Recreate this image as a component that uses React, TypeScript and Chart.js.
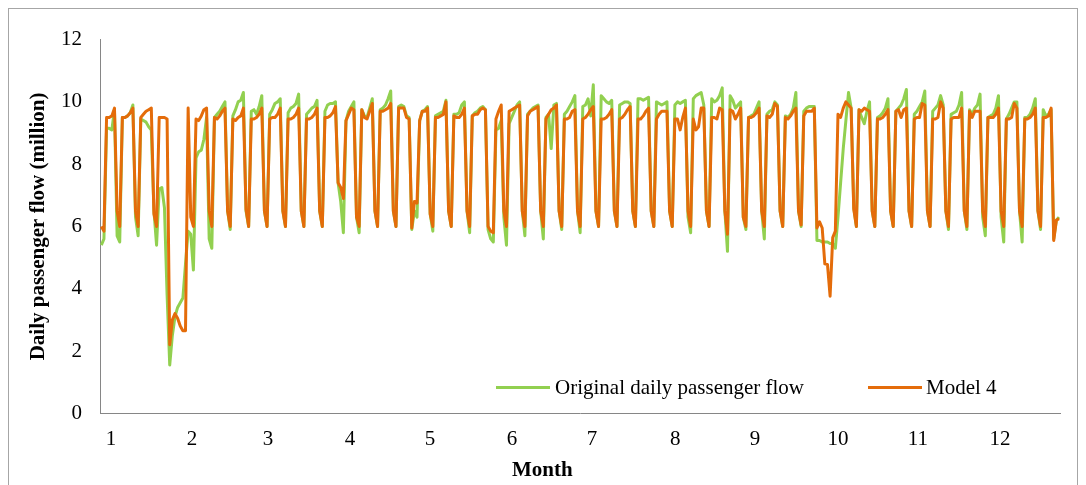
import React, { useEffect, useRef } from "react";
import { Chart, registerables } from "chart.js";

Chart.register(...registerables);

const monthLabels = ["1", "2", "3", "4", "5", "6", "7", "8", "9", "10", "11", "12"];
// day index (0 = first day of the series) under each month label
const monthTickDays = [3.7, 34.5, 63.4, 94.5, 124.9, 156.1, 186.5, 218.1, 248.5, 280.0, 310.4, 341.6];

// Original daily passenger flow (million), one row per week (Sun..Sat)
const originalWeeks: number[][] = [
  [5.4, 5.6, 9.15, 9.15, 9.1, 9.75, 5.7],
  [5.5, 9.5, 9.5, 9.55, 9.65, 9.9, 6.3],
  [5.7, 9.45, 9.4, 9.35, 9.2, 9.1, 6.5],
  [5.4, 7.2, 7.25, 6.6, 3.8, 1.55, 2.5],
  [3.1, 3.4, 3.55, 3.7, 4.8, 5.85, 5.75],
  [4.6, 8.2, 8.4, 8.45, 8.8, 9.5, 5.6],
  [5.3, 9.5, 9.6, 9.7, 9.85, 10.0, 6.5],
  [5.9, 9.55, 9.75, 10.0, 10.05, 10.3, 6.5],
  [6.0, 9.7, 9.75, 9.6, 9.85, 10.2, 6.5],
  [6.0, 9.6, 9.75, 9.95, 10.0, 10.1, 6.5],
  [6.0, 9.65, 9.8, 9.85, 9.95, 10.25, 6.5],
  [6.0, 9.6, 9.7, 9.8, 9.85, 10.05, 6.5],
  [6.0, 9.7, 9.9, 9.95, 9.95, 10.0, 7.4],
  [6.8, 5.8, 9.4, 9.7, 9.85, 10.0, 6.3],
  [5.8, 9.75, 9.55, 9.5, 9.8, 10.1, 6.5],
  [6.0, 9.75, 9.8, 9.9, 10.1, 10.35, 6.5],
  [6.0, 9.85, 9.9, 9.85, 9.55, 9.5, 5.9],
  [6.5, 6.3, 9.4, 9.7, 9.75, 9.85, 6.4],
  [5.85, 9.55, 9.6, 9.65, 9.7, 10.05, 6.5],
  [6.0, 9.6, 9.6, 9.65, 9.9, 10.0, 6.5],
  [5.8, 9.55, 9.65, 9.7, 9.8, 9.85, 9.75],
  [5.9, 5.6, 5.5, 9.1, 9.15, 9.4, 6.3],
  [5.4, 9.3, 9.5, 9.7, 9.9, 10.0, 6.5],
  [5.7, 9.6, 9.7, 9.8, 9.85, 9.9, 6.5],
  [5.6, 9.5, 9.6, 8.5, 9.9, 9.95, 6.5],
  [5.9, 9.6, 9.7, 9.85, 10.0, 10.2, 6.5],
  [5.8, 9.85, 9.9, 10.1, 9.55, 10.55, 6.5],
  [6.0, 10.2, 10.1, 10.0, 9.95, 10.05, 6.5],
  [6.0, 9.9, 9.95, 10.0, 10.0, 9.95, 6.5],
  [6.0, 10.1, 10.1, 10.05, 10.1, 10.15, 6.5],
  [6.0, 10.0, 9.95, 9.9, 9.95, 10.0, 6.5],
  [6.0, 9.9, 10.0, 9.95, 10.0, 10.05, 6.3],
  [5.8, 10.1, 10.2, 10.25, 10.3, 9.9, 6.5],
  [6.0, 10.1, 10.0, 10.05, 10.2, 10.45, 6.5],
  [5.2, 10.2, 10.05, 9.8, 9.9, 10.0, 6.3],
  [5.9, 9.5, 9.55, 9.6, 9.8, 10.0, 6.5],
  [5.6, 9.6, 9.7, 9.75, 10.0, 9.9, 6.5],
  [6.0, 9.55, 9.5, 9.6, 9.8, 10.3, 6.5],
  [6.0, 9.7, 9.8, 9.85, 9.85, 9.85, 5.55],
  [5.55, 5.5, 5.5, 5.5, 5.45, 5.45, 5.3],
  [6.3, 7.4, 8.5, 9.4, 10.3, 9.8, 6.6],
  [6.0, 9.75, 9.5, 9.3, 9.7, 10.0, 6.5],
  [6.0, 9.5, 9.55, 9.65, 9.8, 10.1, 6.5],
  [6.0, 9.7, 9.8, 9.9, 10.1, 10.4, 6.5],
  [6.0, 9.6, 9.7, 9.85, 10.0, 10.35, 6.5],
  [6.0, 9.7, 9.8, 9.9, 10.2, 9.9, 6.5],
  [5.9, 9.6, 9.65, 9.7, 9.9, 10.3, 6.5],
  [5.9, 9.75, 9.6, 9.8, 9.9, 10.25, 6.3],
  [5.7, 9.5, 9.55, 9.6, 9.8, 10.2, 6.3],
  [5.5, 9.45, 9.6, 9.8, 10.0, 10.0, 6.5],
  [5.5, 9.5, 9.5, 9.6, 9.8, 10.1, 6.5],
  [5.9, 9.75, 9.55, 9.6, 9.75, 5.6, 6.2],
];
const originalTail = [6.3];

// Model 4 (million), one row per week (Sun..Sat)
const model4Weeks: number[][] = [
  [6.0, 5.85, 9.5, 9.5, 9.55, 9.8, 6.5],
  [6.0, 9.5, 9.5, 9.55, 9.65, 9.8, 6.5],
  [6.0, 9.5, 9.6, 9.7, 9.75, 9.8, 6.4],
  [6.0, 9.5, 9.5, 9.5, 9.45, 2.2, 3.0],
  [3.2, 3.05, 2.8, 2.65, 2.65, 9.8, 6.3],
  [6.0, 9.45, 9.4, 9.55, 9.75, 9.8, 6.5],
  [6.0, 9.5, 9.45, 9.55, 9.7, 9.8, 6.5],
  [6.0, 9.45, 9.4, 9.5, 9.55, 9.8, 6.55],
  [6.0, 9.45, 9.45, 9.5, 9.6, 9.8, 6.5],
  [6.0, 9.45, 9.5, 9.5, 9.6, 9.8, 6.5],
  [6.0, 9.45, 9.45, 9.5, 9.6, 9.8, 6.5],
  [6.0, 9.45, 9.45, 9.5, 9.6, 9.8, 6.5],
  [6.0, 9.5, 9.5, 9.55, 9.65, 9.85, 7.4],
  [7.25, 6.9, 9.4, 9.6, 9.8, 9.75, 6.3],
  [6.0, 9.75, 9.5, 9.45, 9.7, 9.95, 6.5],
  [6.0, 9.7, 9.7, 9.75, 9.8, 9.95, 6.5],
  [6.0, 9.8, 9.8, 9.8, 9.5, 9.45, 5.95],
  [6.8, 6.75, 9.4, 9.7, 9.7, 9.8, 6.4],
  [6.0, 9.5, 9.5, 9.55, 9.6, 10.0, 6.5],
  [6.0, 9.55, 9.5, 9.5, 9.6, 9.8, 6.5],
  [6.0, 9.55, 9.6, 9.6, 9.75, 9.8, 9.75],
  [6.0, 5.85, 5.8, 9.45, 9.7, 9.9, 6.5],
  [6.0, 9.7, 9.75, 9.8, 9.85, 9.9, 6.5],
  [6.0, 9.55, 9.7, 9.75, 9.8, 9.85, 6.5],
  [6.0, 9.45, 9.6, 9.75, 9.8, 9.9, 6.5],
  [6.0, 9.45, 9.45, 9.5, 9.7, 9.75, 6.5],
  [6.0, 9.45, 9.5, 9.6, 9.75, 9.85, 6.5],
  [6.0, 9.45, 9.45, 9.5, 9.6, 9.75, 6.5],
  [6.0, 9.45, 9.5, 9.6, 9.75, 9.85, 6.5],
  [6.0, 9.45, 9.45, 9.55, 9.7, 9.8, 6.5],
  [6.0, 9.45, 9.6, 9.7, 9.7, 9.7, 6.5],
  [6.0, 9.45, 9.45, 9.1, 9.5, 9.8, 6.5],
  [6.0, 9.45, 9.1, 9.2, 9.8, 9.8, 6.5],
  [6.0, 9.5, 9.5, 9.45, 9.8, 9.75, 6.5],
  [5.75, 9.75, 9.7, 9.45, 9.6, 9.8, 6.3],
  [6.0, 9.5, 9.5, 9.55, 9.65, 9.8, 6.5],
  [6.0, 9.55, 9.5, 9.6, 9.95, 9.85, 6.5],
  [6.0, 9.5, 9.45, 9.55, 9.7, 9.8, 6.5],
  [6.05, 9.55, 9.7, 9.7, 9.7, 9.8, 5.95],
  [6.15, 5.95, 4.8, 4.78, 3.76, 5.64, 5.85],
  [9.6, 9.5, 9.8, 10.0, 9.9, 9.8, 6.55],
  [6.0, 9.75, 9.7, 9.8, 9.75, 9.7, 6.5],
  [6.0, 9.45, 9.45, 9.5, 9.6, 9.75, 6.5],
  [6.0, 9.7, 9.75, 9.5, 9.75, 9.8, 6.5],
  [6.0, 9.45, 9.5, 9.5, 9.95, 9.9, 6.5],
  [6.0, 9.45, 9.45, 9.5, 10.0, 9.8, 6.5],
  [6.0, 9.45, 9.5, 9.5, 9.5, 9.8, 6.5],
  [6.0, 9.7, 9.5, 9.7, 9.7, 9.7, 6.5],
  [6.0, 9.5, 9.5, 9.5, 9.6, 9.8, 6.5],
  [6.0, 9.45, 9.45, 9.5, 9.95, 9.8, 6.5],
  [6.0, 9.45, 9.45, 9.5, 9.6, 9.8, 6.5],
  [6.0, 9.5, 9.5, 9.55, 9.8, 5.55, 6.2],
];
const model4Tail = [6.25];

const FONT = "'Liberation Serif', 'Times New Roman', serif";
const GREEN = "#92D050";
const ORANGE = "#E46C0A";

export default function App() {
  const ref = useRef<HTMLCanvasElement>(null);

  useEffect(() => {
    const original = [...originalWeeks.flat(), ...originalTail];
    const model4 = [...model4Weeks.flat(), ...model4Tail];
    const n = original.length;
    const chart = new Chart(ref.current as HTMLCanvasElement, {
      type: "line",
      data: {
        datasets: [
          {
            label: "Original daily passenger flow",
            data: original.map((y, x) => ({ x, y })),
            borderColor: GREEN,
            backgroundColor: GREEN,
            borderWidth: 3,
            pointRadius: 0,
            tension: 0,
            borderJoinStyle: "round",
            order: 1,
          },
          {
            label: "Model 4",
            data: model4.map((y, x) => ({ x, y })),
            borderColor: ORANGE,
            backgroundColor: ORANGE,
            borderWidth: 3,
            pointRadius: 0,
            tension: 0,
            borderJoinStyle: "round",
            order: 0,
          },
        ],
      },
      options: {
        animation: false,
        responsive: false,
        devicePixelRatio: 1,
        layout: { padding: { left: 0, top: 21, right: 16.7, bottom: 0 } },
        plugins: { legend: { display: false }, tooltip: { enabled: false } },
        scales: {
          x: {
            type: "linear",
            min: -0.5,
            max: n - 0.5,
            grid: { display: false, drawTicks: false },
            border: { display: true, color: "#868686", width: 1 },
            afterBuildTicks: (s: any) => {
              s.ticks = monthTickDays.map((v) => ({ value: v }));
            },
            afterFit: (s: any) => {
              s.height = 71.7;
            },
            ticks: {
              autoSkip: false,
              maxRotation: 0,
              padding: 14,
              color: "#000",
              font: { family: FONT, size: 21 },
              callback: (_v: any, i: number) => monthLabels[i],
            },
          },
          y: {
            min: 0,
            max: 12,
            afterFit: (s: any) => {
              s.width = 91;
            },
            grid: { display: false, drawTicks: false },
            border: { display: true, color: "#868686", width: 1 },
            ticks: {
              stepSize: 2,
              padding: 18,
              color: "#000",
              font: { family: FONT, size: 21 },
            },
            title: {
              display: true,
              text: "Daily passenger flow (million)",
              color: "#000",
              font: { family: FONT, size: 21, weight: "bold" },
              padding: { top: 17, bottom: 0 },
            },
          },
        },
      },
    } as any);
    return () => chart.destroy();
  }, []);

  const textStyle: React.CSSProperties = {
    position: "absolute",
    fontFamily: FONT,
    fontSize: 21,
    lineHeight: "21px",
    color: "#000",
    whiteSpace: "nowrap",
  };

  return (
    <div
      style={{
        position: "relative",
        width: 1070,
        height: 490,
        border: "1px solid #a6a6a6",
        boxSizing: "border-box",
        background: "#fff",
      }}
    >
      <canvas
        ref={ref}
        width={1068}
        height={476}
        style={{ position: "absolute", left: 0, top: 0, width: 1068, height: 476 }}
      />
      <div style={{ position: "absolute", left: 487, top: 376.5, width: 54, height: 3, background: GREEN }} />
      <div style={{ ...textStyle, left: 546, top: 368.4 }}>Original daily passenger flow</div>
      <div style={{ position: "absolute", left: 859, top: 376.5, width: 54, height: 3, background: ORANGE }} />
      <div style={{ ...textStyle, left: 917, top: 368.4 }}>Model 4</div>
      <div style={{ ...textStyle, left: 503, top: 450.4, fontWeight: "bold" }}>Month</div>
    </div>
  );
}
